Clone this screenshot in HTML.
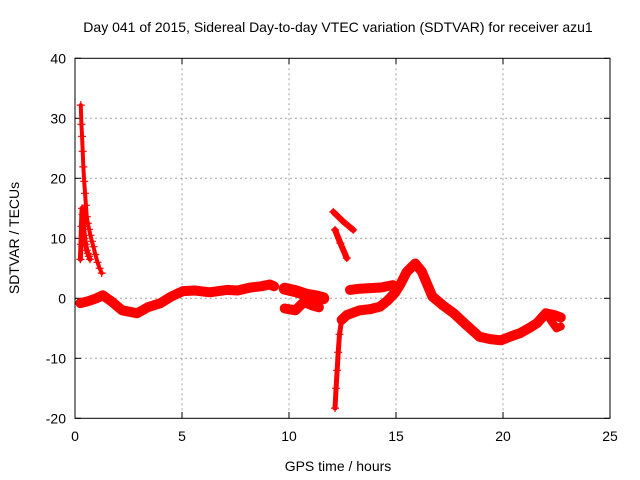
<!DOCTYPE html>
<html><head><meta charset="utf-8"><style>
body{margin:0;background:#fff;}
svg{display:block;font-family:"Liberation Sans",sans-serif;}
</style></head><body>
<svg id="chart" width="640" height="480">
<text x="338" y="32" text-anchor="middle" font-size="14">Day 041 of 2015, Sidereal Day-to-day VTEC variation (SDTVAR) for receiver azu1</text>
<g id="grid"></g>
<g id="ticks"></g>
<g id="series"></g>
<rect x="75" y="58.3" width="535" height="360" fill="none" stroke="#000" stroke-width="1"/>
<text x="338" y="471" text-anchor="middle" font-size="14">GPS time / hours</text>
<text transform="translate(19,238) rotate(-90)" text-anchor="middle" font-size="14">SDTVAR / TECUs</text>
</svg>
<script>
const xTicks=[0,5,10,15,20,25];
const yTicks=[-20,-10,0,10,20,30,40];
const segSpikeT=[0.27,0.3,0.33,0.36,0.39,0.43,0.47,0.51,0.55,0.6,0.66,0.72,0.79,0.86,0.95,1.05,1.15,1.25];
const segSpikeV=[32.2,29,27,24.5,21.9,19.5,17.5,15.5,13.6,12.5,11.5,10.5,9.5,8.6,7.3,6,5,4.2];
const segSpike2T=[0.25,0.28,0.3,0.33,0.36,0.4,0.45,0.5,0.55,0.6,0.65,0.7];
const segSpike2V=[6.5,9,12,15,14,12,10,9,8,7.5,7,6.5];
const segBaseT=[0.25,0.6,1.0,1.3,1.7,2.2,2.9,3.4,4,4.5,5.05,5.6,6.3,7.1,7.6,8.2,8.7,9.1,9.3];
const segBaseV=[-0.8,-0.5,0,0.5,-0.5,-2,-2.5,-1.5,-0.8,0.3,1.2,1.3,1,1.4,1.3,1.8,2,2.3,2];
const segMidAT=[9.8,10.3,10.8,11.3,11.6];
const segMidAV=[1.6,1.2,0.6,0.3,0];
const segMidBT=[9.8,10.3,10.7,11.1,11.4];
const segMidBV=[-1.7,-2,-0.6,-1.2,-1.5];
const segUpAT=[12.07,12.5,13.0];
const segUpAV=[14.4,12.9,11.4];
const segUpBT=[12.15,12.4,12.7];
const segUpBV=[11.4,9.2,6.7];
const segDropT=[12.15,12.2,12.25,12.3,12.36,12.46];
const segDropV=[-18.3,-15,-12,-9,-6,-3.6];
const segDipT=[12.46,12.7,13.3,13.8,14.25,14.6,14.95,15.2,15.5,15.9,16.2,16.7,17.2,17.7,18.3,18.9,19.4,19.9,20.4,20.8,21.3,21.6,22.0,22.4,22.7];
const segDipV=[-3.6,-2.8,-2,-1.8,-1.4,-0.4,0.9,2.3,4.4,5.8,4.5,0.3,-1.2,-2.5,-4.5,-6.4,-6.8,-7,-6.3,-5.8,-4.8,-4.1,-2.5,-2.8,-3.2];
const segUpperT=[12.85,13.3,13.8,14.3,14.86];
const segUpperV=[1.4,1.6,1.7,1.8,2.2];
const segTailT=[22.2,22.5,22.7];
const segTailV=[-3.5,-5,-4.7];

const X=t=>75+t*21.4;
const Y=v=>298.3-v*6;
const NS="http://www.w3.org/2000/svg";
const grid=document.getElementById('grid'),ticks=document.getElementById('ticks'),ser=document.getElementById('series');
function mk(tag,attrs,parent){const e=document.createElementNS(NS,tag);for(const k in attrs)e.setAttribute(k,attrs[k]);parent.appendChild(e);return e;}
xTicks.forEach(t=>{
  if(t>0&&t<25){const g=mk('line',{x1:X(t),x2:X(t),y1:58.3,y2:418.3,stroke:'#a0a0a0','stroke-dasharray':'2,3'},grid);
  
  }
  const l=mk('text',{x:X(t),y:441,'text-anchor':'middle','font-size':14},ticks);l.textContent=t;
  
  
  mk('line',{x1:X(t),x2:X(t),y1:418.3,y2:412,stroke:'#000'},ticks);
  mk('line',{x1:X(t),x2:X(t),y1:58.3,y2:64,stroke:'#000'},ticks);
});
yTicks.forEach(v=>{
  if(v>-20&&v<40){const g=mk('line',{x1:75,x2:610,y1:Y(v),y2:Y(v),stroke:'#a0a0a0','stroke-dasharray':'2,3'},grid);
  
  }
  const l=mk('text',{x:66,y:Y(v)+5,'text-anchor':'end','font-size':14},ticks);l.textContent=v;
  
  
  mk('line',{x1:75,x2:81,y1:Y(v),y2:Y(v),stroke:'#000'},ticks);
  mk('line',{x1:610,x2:604,y1:Y(v),y2:Y(v),stroke:'#000'},ticks);
});
function seg(T,V,w,name){
  const pts=T.map((t,i)=>X(t)+','+Y(V[i])).join(' ');
  if(w>0){const p=mk('polyline',{points:pts,fill:'none',stroke:'#f00','stroke-width':w,'stroke-linejoin':'round','stroke-linecap':'round'},ser);
  
  }
  T.forEach((t,i)=>{const x=X(t),y=Y(V[i]);
    const m=mk('path',{d:`M${x-4},${y}H${x+4}M${x},${y-4}V${y+4}`,stroke:'#f00','stroke-width':1.2},ser);
    
    });
}
seg(segSpikeT,segSpikeV,4,'spike-series');
seg(segSpike2T,segSpike2V,5,'spike-branch-series');
seg(segBaseT,segBaseV,10,'baseline-series');
seg(segMidAT,segMidAV,12,'mid-a-series');
seg(segMidBT,segMidBV,10,'mid-b-series');
seg(segUpAT,segUpAV,6,'upper-a-series');
seg(segUpBT,segUpBV,6,'upper-b-series');
seg(segDropT,segDropV,5,'drop-series');
seg(segDipT,segDipV,10,'dip-series');
seg(segUpperT,segUpperV,10,'upper-branch-series');
seg(segTailT,segTailV,8,'tail-series');
</script>
</body></html>
